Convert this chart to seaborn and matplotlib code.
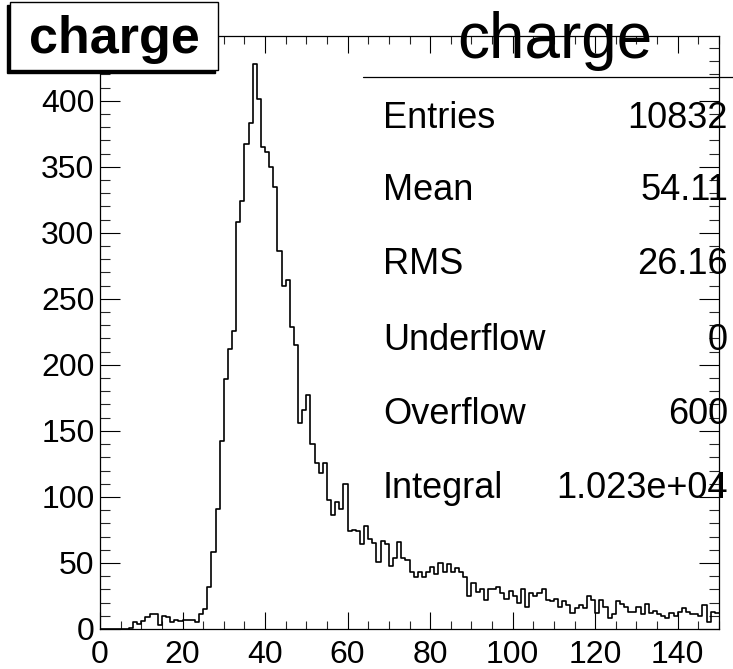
import numpy as np
import pandas as pd
import matplotlib
matplotlib.use("Agg")
import matplotlib.pyplot as plt
from matplotlib.ticker import MultipleLocator
from matplotlib.patches import Rectangle
from matplotlib.lines import Line2D
import seaborn as sns

# ---- data ----
bin_edges_start = 0
bin_width = 1
counts = [0, 0, 0, 0, 0, 0, 0, 1, 5, 4,
          6, 9, 11, 11, 3, 10, 9, 5, 7, 6,
          7, 7, 7, 5, 11, 15, 32, 58, 91, 142,
          189, 212, 226, 308, 324, 367, 383, 428, 401, 365,
          361, 350, 335, 286, 260, 264, 229, 215, 156, 166,
          177, 140, 126, 118, 126, 98, 86, 96, 91, 110,
          74, 75, 74, 64, 78, 68, 65, 51, 67, 64,
          48, 54, 66, 54, 52, 43, 39, 43, 39, 43,
          47, 42, 50, 43, 49, 43, 46, 43, 39, 25,
          35, 28, 30, 22, 30, 30, 32, 27, 23, 29,
          25, 20, 30, 17, 27, 25, 27, 30, 22, 21,
          23, 17, 21, 18, 12, 16, 18, 16, 25, 22,
          12, 22, 17, 8, 11, 21, 19, 17, 13, 13,
          17, 11, 19, 12, 14, 11, 10, 8, 12, 10,
          13, 16, 13, 11, 11, 10, 18, 5, 13, 12]
x_ticks = [0, 20, 40, 60, 80, 100, 120, 140]
y_ticks = [0, 50, 100, 150, 200, 250, 300, 350, 400]
title_text = "charge"
stat_labels = ["Entries", "Mean", "RMS", "Underflow", "Overflow", "Integral"]
stat_values = ["10832", "54.11", "26.16", "0", "600", "1.023e+04"]

nbins = len(counts)
x_lo = bin_edges_start
x_hi = bin_edges_start + nbins * bin_width
centers = x_lo + (np.arange(nbins) + 0.5) * bin_width
df = pd.DataFrame({"charge": centers, "w": np.asarray(counts, dtype=float)})

sns.set_theme(style="white")
plt.rcParams['font.family'] = ['Liberation Sans', 'DejaVu Sans']

W, H = 733, 669
fig = plt.figure(figsize=(W / 100, H / 100), dpi=100)
L, R, T, B = 100, 719, 36, 629
ax = fig.add_axes([L / W, 1 - B / H, (R - L) / W, (B - T) / H])
ax.set_facecolor("white")

sns.histplot(data=df, x="charge", weights="w", bins=nbins, binrange=(x_lo, x_hi),
             element="step", fill=False, color="black", linewidth=1.2, ax=ax)

ax.set_xlim(x_lo, x_hi)
ax.set_ylim(0, 449)
ax.set_xlabel("")
ax.set_ylabel("")
ax.set_xticks(x_ticks)
ax.set_yticks(y_ticks)
ax.xaxis.set_minor_locator(MultipleLocator(5))
ax.yaxis.set_minor_locator(MultipleLocator(10))
for s in ax.spines.values():
    s.set_visible(True)
    s.set_color("black")
    s.set_linewidth(0.9)
ax.tick_params(axis="x", which="major", direction="in", length=12, width=0.8,
               top=True, bottom=True, labelsize=23, pad=8, colors="black")
ax.tick_params(axis="x", which="minor", direction="in", length=5.8, width=0.8,
               top=True, bottom=True)
ax.tick_params(axis="y", which="major", direction="in", length=14.4, width=0.8,
               left=True, right=True, labelsize=23, pad=4, colors="black")
ax.tick_params(axis="y", which="minor", direction="in", length=7.2, width=0.8,
               left=True, right=True)
ax.grid(False)

def fx(px):
    return px / W

def fy(py):
    return 1 - py / H

# big centered title
fig.text(fx(555), fy(58), title_text, fontsize=46, ha="center", va="baseline",
         color="black")

# top-left title box with shadow
bx0, by0, bx1, by1 = 10, 2, 218, 70
fig.patches.append(Rectangle((fx(bx0 - 3), fy(by1 + 3)), fx(bx1 - bx0), (by1 - by0) / H,
                             transform=fig.transFigure, facecolor="black",
                             edgecolor="black", linewidth=1, zorder=5))
fig.patches.append(Rectangle((fx(bx0), fy(by1)), fx(bx1 - bx0), (by1 - by0) / H,
                             transform=fig.transFigure, facecolor="white",
                             edgecolor="black", linewidth=1, zorder=6))
fig.text(fx(114), fy(53), title_text, fontsize=37.5, fontweight="bold",
         ha="center", va="baseline", color="black", zorder=7)

# stats box top edge
fig.lines.append(Line2D([fx(363), fx(733)], [fy(77), fy(77)], transform=fig.transFigure,
                        color="black", linewidth=0.9))
row_y = [118, 191, 265, 341, 414, 488]
for lab, val, yy in zip(stat_labels, stat_values, row_y):
    fig.text(fx(383), fy(yy), lab, fontsize=26, ha="left", va="center", color="black")
    fig.text(fx(728), fy(yy), val, fontsize=26, ha="right", va="center", color="black")

fig.savefig("out.png", dpi=100, facecolor="white")
